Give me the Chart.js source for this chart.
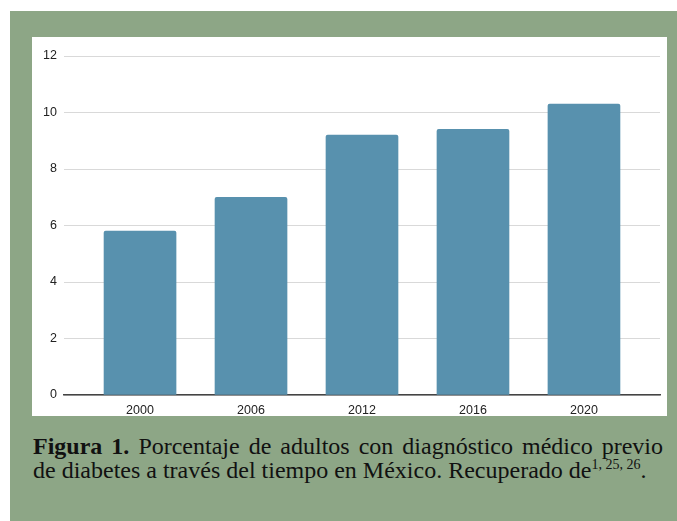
<!DOCTYPE html>
<html>
<head>
<meta charset="utf-8">
<script src="https://cdn.jsdelivr.net/npm/chart.js@4"></script>
<style>
  html, body { margin: 0; padding: 0; background: #fff; }
  body { width: 677px; height: 521px; position: relative; overflow: hidden; }
  .marco { position: absolute; left: 10px; top: 11px; right: 0; bottom: 0; background: #8da686; }
  .panel { position: absolute; left: 32px; top: 37px; width: 635px; height: 379px; background: #fff; }
  .pie {
    position: absolute; left: 33px; top: 434px; width: 630px;
    font-family: "Liberation Serif", "Times New Roman", serif; font-size: 24px; line-height: 24px;
    color: #111; text-align: justify; text-align-last: left;
  }
  .pie sup { font-size: 14px; vertical-align: 9px; line-height: 0; }
</style>
</head>
<body>
<div class="marco"></div>
<div class="panel"><canvas id="myChart" width="635" height="379"></canvas></div>
<div class="pie"><b>Figura 1.</b> Porcentaje de adultos con diagnóstico médico previo de diabetes a través del tiempo en México. Recuperado de<sup>1, 25, 26</sup>.</div>
<script>
const anios = ["2000", "2006", "2012", "2016", "2020"];
const porcentajes = [5.8, 7.0, 9.2, 9.4, 10.3];
const ticksY = [0, 2, 4, 6, 8, 10, 12];

const ctx = document.getElementById('myChart');

// eje x lineal para dejar el margen de google charts a los lados
const puntos = porcentajes.map((v, i) => ({ x: i, y: v }));

new Chart(ctx, {
  type: 'bar',
  data: {
    datasets: [{
      label: '',
      data: puntos,
      backgroundColor: '#5891ae',
      barThickness: 72,
      borderRadius: { topLeft: 2, topRight: 2 },
      borderSkipped: 'start'
    }]
  },
  options: {
    responsive: false,
    animation: false,
    layout: { padding: { top: 19, right: 7, left: 0, bottom: 0 } },
    plugins: { legend: { display: false }, tooltip: { enabled: false } },
    scales: {
      x: {
        type: 'linear',
        offset: false,
        min: -0.685,
        max: anios.length - 1 + 0.685,
        grid: { display: false, drawTicks: false },
        border: { display: true, color: '#444', width: 1.5 },
        afterBuildTicks: (scale) => { scale.ticks = anios.map((a, i) => ({ value: i })); },
        afterFit: (scale) => { scale.height = 21; },
        ticks: {
          padding: 8,
          color: '#222',
          font: { family: 'Arial, "Liberation Sans"', size: 12.5 },
          callback: (v) => anios[v]
        }
      },
      y: {
        min: 0,
        max: 12,
        afterBuildTicks: (scale) => { scale.ticks = ticksY.map(v => ({ value: v })); },
        afterFit: (scale) => { scale.width = 32; },
        grid: { color: '#d9d9d9', drawTicks: false },
        border: { display: false },
        ticks: {
          padding: 7,
          color: '#222',
          font: { family: 'Arial, "Liberation Sans"', size: 12.5 }
        }
      }
    }
  }
});
</script>
</body>
</html>
